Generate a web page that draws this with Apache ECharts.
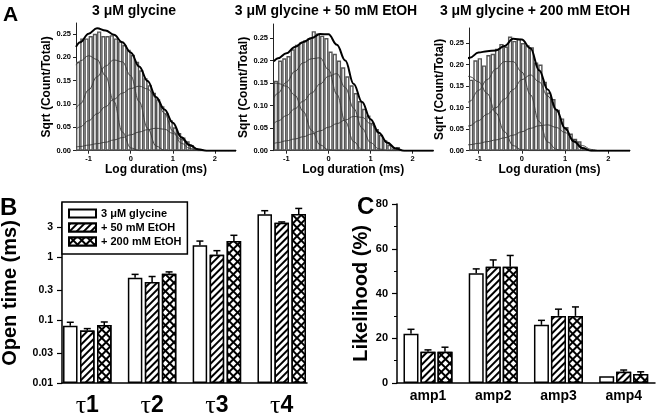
<!DOCTYPE html>
<html><head><meta charset="utf-8">
<script src="https://cdn.jsdelivr.net/npm/echarts@6/dist/echarts.min.js"></script>
<style>html,body{margin:0;padding:0;background:#fff}#c{width:656px;height:415px}</style>
</head><body><div id="c"></div>
<script>
const FONT = '"Liberation Sans", Arial, Helvetica, sans-serif';

// ---------- Panel A : histograms (bin centres, sqrt(count/total)) ----------
const histX1 = [-1.25,-1.15,-1.05,-0.95,-0.85,-0.75,-0.65,-0.55,-0.45,-0.35,-0.25,-0.15,-0.05,0.05,0.15,0.25,0.35,0.45,0.55,0.65,0.75,0.85,0.95,1.05,1.15,1.25,1.35,1.45,1.55];
const histY1 = [0.19,0.24,0.24,0.245,0.25,0.255,0.245,0.245,0.247,0.24,0.234,0.226,0.216,0.205,0.19,0.172,0.155,0.14,0.124,0.11,0.095,0.08,0.065,0.05,0.038,0.028,0.02,0.012,0.005];
const histX2 = [-1.25,-1.15,-1.05,-0.95,-0.85,-0.75,-0.65,-0.55,-0.45,-0.35,-0.25,-0.15,-0.05,0.05,0.15,0.25,0.35,0.45,0.55,0.65,0.75,0.85,0.95,1.05,1.15,1.25,1.35,1.45,1.55,1.65];
const histY2 = [0.155,0.2,0.205,0.21,0.225,0.235,0.24,0.245,0.25,0.265,0.26,0.255,0.25,0.22,0.215,0.2,0.185,0.165,0.145,0.128,0.11,0.093,0.078,0.062,0.048,0.035,0.023,0.013,0.005,0.008];
const histX3 = [-1.17,-1.07,-0.97,-0.87,-0.77,-0.67,-0.57,-0.47,-0.37,-0.27,-0.17,-0.07,0.03,0.13,0.23,0.33,0.43,0.53,0.63,0.73,0.83,0.93,1.03,1.13,1.23,1.33,1.43];
const histY3 = [0.165,0.21,0.215,0.198,0.222,0.225,0.237,0.248,0.242,0.265,0.255,0.26,0.25,0.245,0.24,0.205,0.2,0.16,0.135,0.12,0.095,0.075,0.055,0.04,0.028,0.022,0.005];

// fitted curves, read at these log-duration points
const curveX = [-1.3,-1.2,-1.0,-0.8,-0.6,-0.4,-0.2,0,0.2,0.4,0.6,0.8,1.0,1.2,1.4,1.6,1.8,2.0,2.5];
const a1c1 = [0.183,0.192,0.203,0.195,0.16,0.105,0.04,0.006,0,0,0,0,0,0,0,0,0,0,0];
const a1c2 = [0.09,0.1,0.13,0.158,0.181,0.194,0.19,0.16,0.105,0.048,0.01,0.001,0,0,0,0,0,0,0];
const a1c3 = [0.046,0.051,0.064,0.079,0.094,0.11,0.123,0.133,0.138,0.132,0.113,0.08,0.042,0.016,0.005,0,0,0,0];
const a1c4 = [0.008,0.009,0.012,0.015,0.018,0.023,0.028,0.034,0.04,0.045,0.048,0.046,0.037,0.024,0.01,0.002,0,0,0];
const a1tot = [0.222,0.232,0.25,0.262,0.257,0.248,0.232,0.21,0.18,0.149,0.115,0.088,0.06,0.029,0.012,0.003,0,0,0];

const a2c1 = [0.15,0.149,0.143,0.123,0.087,0.045,0.013,0.002,0,0,0,0,0,0,0,0,0,0,0];
const a2c2 = [0.117,0.128,0.152,0.176,0.195,0.204,0.206,0.18,0.125,0.065,0.02,0.002,0,0,0,0,0,0,0];
const a2c3 = [0.06,0.066,0.078,0.093,0.11,0.128,0.148,0.165,0.171,0.14,0.094,0.05,0.018,0.004,0,0,0,0,0];
const a2c4 = [0.016,0.018,0.022,0.026,0.031,0.037,0.044,0.052,0.06,0.068,0.076,0.074,0.06,0.038,0.016,0.004,0,0,0];
const a2tot = [0.198,0.205,0.216,0.23,0.241,0.25,0.259,0.258,0.235,0.2,0.148,0.108,0.07,0.04,0.018,0.005,0,0,0];

const a3c1 = [0.176,0.172,0.16,0.133,0.088,0.044,0.012,0.002,0,0,0,0,0,0,0,0,0,0,0];
const a3c2 = [0.105,0.115,0.14,0.165,0.19,0.207,0.207,0.183,0.13,0.068,0.02,0.003,0,0,0,0,0,0,0];
const a3c3 = [0.054,0.058,0.07,0.085,0.1,0.12,0.142,0.165,0.176,0.16,0.127,0.093,0.05,0.02,0.005,0,0,0,0];
const a3c4 = [0.013,0.014,0.017,0.021,0.025,0.03,0.036,0.044,0.052,0.058,0.06,0.054,0.042,0.026,0.012,0.003,0,0,0];
const a3tot = [0.212,0.216,0.228,0.231,0.233,0.243,0.26,0.258,0.238,0.187,0.142,0.095,0.052,0.022,0.006,0,0,0,0];

const aTicksY = [0,0.05,0.1,0.15,0.2,0.25];
const aTicksX = [-1,0,1,2];

// ---------- Panel B : open times (ms) ----------
const seriesNames = ['3 \u03bcM glycine', '+ 50 mM EtOH', '+ 200 mM EtOH'];
const catsB = ['\u03c41','\u03c42','\u03c43','\u03c44'];
const tauGly = [0.081,0.47,1.53,4.76];
const tauGlySem = [0.011,0.06,0.26,0.67];
const tauE50 = [0.068,0.40,1.09,3.5];
const tauE50Sem = [0.005,0.09,0.17,0.1];
const tauE200 = [0.083,0.54,1.79,4.8];
const tauE200Sem = [0.01,0.04,0.42,1.1];
const tickB = [0.01,0.03,0.1,0.3,1,3];
const tickBLabels = ['0.01','0.03','0.1','0.3','1','3'];

// ---------- Panel C : likelihood (%) ----------
const catsC = ['amp1','amp2','amp3','amp4'];
const ampGly = [22,49,26,3];
const ampGlySem = [2,2,2,0];
const ampE50 = [14,52,30,5];
const ampE50Sem = [0.8,3,3,0.8];
const ampE200 = [14,52,30,4];
const ampE200Sem = [2,5,4,1];

// ---------------------------------------------------------------
const lg = v => Math.log10(v) + 2;   // log scale, 0.01 -> 0
const ident = v => v;
const bold = (s) => ({fontFamily: FONT, fontWeight: 'bold', fontSize: s, color: '#000'});

const barStyles = [
  {color:'#fff', borderColor:'#000', borderWidth:1.5},
  {color:'#fff', borderColor:'#000', borderWidth:1.5,
   decal:{symbol:'rect', symbolSize:1, color:'#000', backgroundColor:'#fff', dashArrayX:[1,0], dashArrayY:[1.6,2.4], rotation:-Math.PI/4}},
  {color:'#000', borderColor:'#000', borderWidth:1.5,
   decal:{symbol:'rect', symbolSize:1, color:'#fff', backgroundColor:'#000', dashArrayX:[3.4,1.3], dashArrayY:[3.4,1.3], rotation:Math.PI/4}}
];

const grids = [
  {left:76, top:23, width:160, height:127.7},
  {left:273, top:24, width:160.5, height:126.7},
  {left:469, top:28, width:161, height:122.7},
  {left:62, top:203, width:245, height:180},
  {left:397, top:204, width:258, height:179}
].map(g => Object.assign(g, {outerBoundsMode:'none', containLabel:false}));

function aX(g, min) {
  return {gridIndex:g, type:'value', min:min, max:2.5,
    axisLine:{onZero:false, lineStyle:{color:'#222', width:1}},
    axisTick:{customValues:aTicksX, length:3, lineStyle:{color:'#222'}},
    axisLabel:{customValues:aTicksX, margin:4, ...bold(7.5), formatter:v=>String(v)},
    splitLine:{show:false},
    name:'Log duration (ms)', nameLocation:'middle', nameGap:13, nameTextStyle:bold(12)};
}
function aY(g, max) {
  return {gridIndex:g, type:'value', min:0, max:max,
    axisLine:{show:true, onZero:false, lineStyle:{color:'#222', width:1}},
    axisTick:{show:true, customValues:aTicksY, length:3, lineStyle:{color:'#222'}},
    axisLabel:{customValues:aTicksY, margin:5, ...bold(7.5), formatter:v=>v.toFixed(2)},
    splitLine:{show:false},
    name:'Sqrt (Count/Total)', nameLocation:'middle', nameGap:20, nameTextStyle:bold(12)};
}

const xAxes = [aX(0,-1.3), aX(1,-1.32), aX(2,-1.22),
  {gridIndex:3, type:'value', min:-0.39, max:3.39,
    axisLine:{onZero:false, lineStyle:{color:'#000', width:1.5}}, axisTick:{show:false}, splitLine:{show:false},
    axisLabel:{customValues:[0,1,2,3], margin:12,
      formatter:v=>{const s=catsB[Math.round(v)]; return '{t|'+s[0]+'}{n|'+s.slice(1)+'}';},
      rich:{t:{fontFamily:'"Liberation Serif", "Times New Roman", serif', fontSize:26, lineHeight:22, color:'#000'},
            n:{fontFamily:FONT, fontWeight:'bold', fontSize:23, lineHeight:22, color:'#000'}}}},
  {gridIndex:4, type:'value', min:-0.475, max:3.48,
    axisLine:{onZero:false, lineStyle:{color:'#000', width:1.5}}, axisTick:{show:false}, splitLine:{show:false},
    axisLabel:{customValues:[0,1,2,3], margin:6, ...bold(14), formatter:v=>catsC[Math.round(v)]}}
];
const yAxes = [aY(0,0.273), aY(1,0.281), aY(2,0.285),
  {gridIndex:3, type:'value', min:0, max:2.857,
    axisLine:{show:true, onZero:false, lineStyle:{color:'#000', width:1.5}},
    axisTick:{show:true, customValues:tickB.map(lg), length:5, lineStyle:{color:'#000', width:1.2}},
    axisLabel:{customValues:tickB.map(lg), margin:9, ...bold(10.5),
      formatter:v=>{let bi=0,bd=1e9; tickB.forEach((t,i)=>{const d=Math.abs(lg(t)-v); if(d<bd){bd=d;bi=i;}}); return tickBLabels[bi];}},
    splitLine:{show:false},
    name:'Open time (ms)', nameLocation:'middle', nameGap:42, nameTextStyle:bold(20)},
  {gridIndex:4, type:'value', min:0, max:80, interval:20,
    axisLine:{show:true, onZero:false, lineStyle:{color:'#000', width:1.5}},
    axisTick:{show:true, length:5, lineStyle:{color:'#000', width:1.2}},
    minorTick:{show:true, splitNumber:2, length:3, lineStyle:{color:'#000', width:1}},
    axisLabel:{margin:9, ...bold(11)},
    splitLine:{show:false},
    name:'Likelihood (%)', nameLocation:'middle', nameGap:18, nameTextStyle:bold(20)}
];

const series = [];
function hist(idx, xs, ys, bw) {
  series.push({type:'bar', xAxisIndex:idx, yAxisIndex:idx, data:xs.map((x,i)=>[x, ys[i]]),
    barWidth:bw, itemStyle:{color:'#fff', borderColor:'#555', borderWidth:1.4}, silent:true, z:2});
}
function curve(idx, ys, total) {
  series.push({type:'line', xAxisIndex:idx, yAxisIndex:idx, data:curveX.map((x,i)=>[x, ys[i]]),
    smooth:0.4, smoothMonotone:'x', symbol:'none', silent:true, z: total?5:4,
    lineStyle:{color: total?'#000':'#3a3a3a', width: total?2:0.9}});
}
hist(0, histX1, histY1, 4.2); [a1c1,a1c2,a1c3,a1c4].forEach(c=>curve(0,c,false)); curve(0,a1tot,true);
hist(1, histX2, histY2, 4.2); [a2c1,a2c2,a2c3,a2c4].forEach(c=>curve(1,c,false)); curve(1,a2tot,true);
hist(2, histX3, histY3, 4.33); [a3c1,a3c2,a3c3,a3c4].forEach(c=>curve(2,c,false)); curve(2,a3tot,true);

function groupBars(idx, groups, sems, tf, bw, gapPx, withName) {
  groups.forEach((vals, s) => {
    series.push({type:'bar', name: withName ? seriesNames[s] : undefined, xAxisIndex:idx, yAxisIndex:idx,
      data: vals.map((v,i)=>[i, tf(v)]), barWidth:bw, barGap:(gapPx/bw*100)+'%',
      itemStyle: barStyles[s], silent:true, z:2});
  });
  groups.forEach((vals, s) => {
    series.push({type:'custom', xAxisIndex:idx, yAxisIndex:idx, silent:true, z:6,
      data: vals.map((v,i)=>[i, v, sems[s][i]]),
      renderItem:(params, api)=>{
        const i=api.value(0), m=api.value(1), e=api.value(2);
        if (!(e>0)) return null;
        const p0=api.coord([i, tf(m)]), p1=api.coord([i, tf(m+e)]);
        const x=p0[0]+(s-1)*(bw+gapPx);
        return {type:'group', children:[
          {type:'line', shape:{x1:x,y1:p0[1],x2:x,y2:p1[1]}, style:{stroke:'#000', lineWidth:1.5}},
          {type:'line', shape:{x1:x-3.5,y1:p1[1],x2:x+3.5,y2:p1[1]}, style:{stroke:'#000', lineWidth:1.5}}
        ]};
      }});
  });
}
groupBars(3, [tauGly, tauE50, tauE200], [tauGlySem, tauE50Sem, tauE200Sem], lg, 14.5, 2.5, true);
groupBars(4, [ampGly, ampE50, ampE200], [ampGlySem, ampE50Sem, ampE200Sem], ident, 15, 2, false);

const txt = (t, x, y, size, align) => ({type:'text', x:x, y:y, silent:true,
  style:{text:t, fontFamily:FONT, fontWeight:'bold', fontSize:size, fill:'#000', textAlign:align||'center', textVerticalAlign:'middle'}});

const chart = echarts.init(document.getElementById('c'), null, {renderer:'canvas'});
chart.setOption({
  animation:false,
  backgroundColor:'#fff',
  grid: grids,
  xAxis: xAxes,
  yAxis: yAxes,
  legend: {data: seriesNames, left:62, top:202, orient:'vertical', icon:'rect',
    itemWidth:27, itemHeight:8, itemGap:3, padding:[6,6,7,6],
    borderColor:'#000', borderWidth:1.5, backgroundColor:'#fff', selectedMode:false,
    textStyle:bold(11)},
  graphic: [
    txt('3 \u03bcM glycine', 134, 11, 14),
    txt('3 \u03bcM glycine + 50 mM EtOH', 326, 11, 14),
    txt('3 \u03bcM glycine + 200 mM EtOH', 535, 11, 14),
    txt('A', 3, 15, 21, 'left'),
    txt('B', 0, 208, 24, 'left'),
    txt('C', 357, 207, 24, 'left')
  ],
  series: series
});
</script></body></html>
